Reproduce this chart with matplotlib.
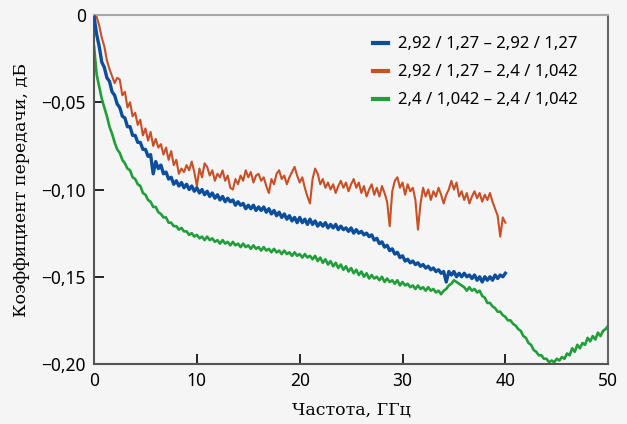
import numpy as np
import matplotlib
matplotlib.use("Agg")
import matplotlib.pyplot as plt

# frequency grid, GHz (0.25 GHz step)
freq = np.arange(0, 50.001, 0.25)

# 2,92/1,27 - 2,92/1,27 (0..40 GHz)
s21_blue = [
    -0.001, -0.011, -0.018, -0.027, -0.030, -0.036, -0.038, -0.044, -0.046, -0.051,
    -0.053, -0.058, -0.059, -0.064, -0.064, -0.069, -0.069, -0.073, -0.073, -0.077,
    -0.077, -0.081, -0.080, -0.091, -0.084, -0.088, -0.086, -0.091, -0.090, -0.094,
    -0.093, -0.097, -0.095, -0.098, -0.096, -0.099, -0.097, -0.100, -0.098, -0.101,
    -0.099, -0.102, -0.100, -0.103, -0.101, -0.104, -0.102, -0.105, -0.103, -0.106,
    -0.104, -0.107, -0.105, -0.107, -0.106, -0.109, -0.107, -0.109, -0.108, -0.111,
    -0.109, -0.111, -0.109, -0.112, -0.110, -0.112, -0.110, -0.113, -0.111, -0.114,
    -0.112, -0.115, -0.113, -0.116, -0.114, -0.117, -0.115, -0.118, -0.116, -0.119,
    -0.116, -0.119, -0.117, -0.120, -0.117, -0.120, -0.118, -0.121, -0.119, -0.121,
    -0.119, -0.122, -0.120, -0.122, -0.120, -0.123, -0.121, -0.123, -0.122, -0.124,
    -0.122, -0.125, -0.123, -0.125, -0.124, -0.126, -0.125, -0.127, -0.126, -0.129,
    -0.128, -0.131, -0.130, -0.133, -0.132, -0.135, -0.134, -0.137, -0.136, -0.139,
    -0.138, -0.141, -0.140, -0.142, -0.141, -0.143, -0.142, -0.144, -0.143, -0.145,
    -0.144, -0.146, -0.145, -0.147, -0.146, -0.148, -0.147, -0.153, -0.147, -0.149,
    -0.147, -0.150, -0.148, -0.150, -0.148, -0.150, -0.149, -0.151, -0.149, -0.152,
    -0.150, -0.153, -0.150, -0.152, -0.150, -0.152, -0.149, -0.151, -0.149, -0.150,
    -0.148,
]

# 2,92/1,27 - 2,4/1,042 (0..40 GHz)
s21_red = [
    0.000, -0.001, -0.006, -0.013, -0.018, -0.026, -0.031, -0.035, -0.039, -0.036,
    -0.037, -0.046, -0.044, -0.053, -0.050, -0.058, -0.056, -0.063, -0.060, -0.069,
    -0.065, -0.072, -0.067, -0.075, -0.071, -0.076, -0.074, -0.080, -0.076, -0.083,
    -0.078, -0.086, -0.083, -0.091, -0.088, -0.090, -0.086, -0.089, -0.084, -0.090,
    -0.098, -0.088, -0.093, -0.085, -0.087, -0.092, -0.089, -0.095, -0.091, -0.093,
    -0.089, -0.095, -0.092, -0.099, -0.100, -0.094, -0.097, -0.092, -0.095, -0.089,
    -0.093, -0.090, -0.096, -0.092, -0.091, -0.095, -0.093, -0.098, -0.102, -0.094,
    -0.097, -0.091, -0.089, -0.094, -0.092, -0.097, -0.093, -0.090, -0.087, -0.092,
    -0.096, -0.093, -0.099, -0.104, -0.108, -0.094, -0.088, -0.091, -0.097, -0.094,
    -0.099, -0.096, -0.100, -0.097, -0.102, -0.098, -0.095, -0.099, -0.096, -0.101,
    -0.097, -0.094, -0.099, -0.096, -0.102, -0.098, -0.104, -0.100, -0.097, -0.103,
    -0.099, -0.104, -0.098, -0.102, -0.107, -0.121, -0.101, -0.095, -0.093, -0.099,
    -0.096, -0.103, -0.097, -0.101, -0.099, -0.106, -0.123, -0.108, -0.099, -0.104,
    -0.100, -0.106, -0.101, -0.104, -0.099, -0.103, -0.108, -0.103, -0.100, -0.095,
    -0.100, -0.096, -0.104, -0.101, -0.106, -0.102, -0.108, -0.104, -0.101, -0.105,
    -0.102, -0.107, -0.103, -0.106, -0.102, -0.107, -0.111, -0.115, -0.127, -0.116,
    -0.119,
]

# 2,4/1,042 - 2,4/1,042 (0..50 GHz)
s21_green = [
    -0.018, -0.034, -0.041, -0.048, -0.053, -0.058, -0.064, -0.068, -0.073, -0.077,
    -0.079, -0.083, -0.085, -0.088, -0.089, -0.093, -0.094, -0.097, -0.098, -0.102,
    -0.103, -0.106, -0.107, -0.110, -0.110, -0.113, -0.114, -0.116, -0.116, -0.119,
    -0.119, -0.121, -0.121, -0.123, -0.122, -0.124, -0.124, -0.126, -0.125, -0.127,
    -0.126, -0.128, -0.127, -0.129, -0.127, -0.129, -0.128, -0.130, -0.129, -0.131,
    -0.129, -0.131, -0.130, -0.132, -0.130, -0.132, -0.131, -0.133, -0.131, -0.133,
    -0.132, -0.134, -0.132, -0.134, -0.133, -0.135, -0.133, -0.135, -0.134, -0.136,
    -0.134, -0.136, -0.135, -0.137, -0.135, -0.137, -0.136, -0.138, -0.136, -0.138,
    -0.137, -0.139, -0.137, -0.139, -0.138, -0.140, -0.138, -0.141, -0.139, -0.142,
    -0.140, -0.143, -0.141, -0.144, -0.142, -0.145, -0.143, -0.146, -0.144, -0.147,
    -0.145, -0.148, -0.146, -0.149, -0.147, -0.150, -0.148, -0.151, -0.149, -0.151,
    -0.150, -0.152, -0.150, -0.153, -0.151, -0.153, -0.152, -0.154, -0.152, -0.155,
    -0.153, -0.155, -0.154, -0.156, -0.155, -0.157, -0.155, -0.157, -0.156, -0.158,
    -0.156, -0.158, -0.157, -0.159, -0.158, -0.160, -0.158, -0.157, -0.155, -0.154,
    -0.152, -0.153, -0.154, -0.155, -0.156, -0.158, -0.156, -0.158, -0.157, -0.159,
    -0.158, -0.161, -0.162, -0.165, -0.165, -0.167, -0.168, -0.170, -0.170, -0.172,
    -0.173, -0.175, -0.175, -0.177, -0.178, -0.180, -0.181, -0.184, -0.185, -0.188,
    -0.189, -0.192, -0.193, -0.195, -0.195, -0.197, -0.197, -0.199, -0.198, -0.199,
    -0.197, -0.198, -0.196, -0.197, -0.194, -0.195, -0.191, -0.193, -0.189, -0.191,
    -0.188, -0.189, -0.185, -0.187, -0.184, -0.186, -0.182, -0.184, -0.181, -0.180,
    -0.178,
]

legend_labels = [
    "2,92 / 1,27 – 2,92 / 1,27",
    "2,92 / 1,27 – 2,4 / 1,042",
    "2,4 / 1,042 – 2,4 / 1,042",
]
xticks = [0, 10, 20, 30, 40, 50]
yticks = [-0.20, -0.15, -0.10, -0.05, 0]
yticklabels = ["−0,20", "−0,15", "−0,10", "−0,05", "0"]

bg = "#f5f5f5"
fig = plt.figure(figsize=(6.27, 4.24), dpi=100, facecolor=bg)
ax = fig.add_axes([0.150, 0.1415, 0.820, 0.8231], facecolor=bg)

n_b = len(s21_blue)
n_r = len(s21_red)
ax.plot(freq[:n_b], s21_blue, color="#0b4f9c", lw=2.4, label=legend_labels[0], zorder=3)
ax.plot(freq[:n_r], s21_red, color="#c94f26", lw=1.5, label=legend_labels[1], zorder=2)
ax.plot(freq, s21_green, color="#1f9e3a", lw=1.9, label=legend_labels[2], zorder=2)

ax.set_xlim(0, 50)
ax.set_ylim(-0.20, 0)
ax.set_xticks(xticks)
ax.set_xticklabels([str(t) for t in xticks])
ax.set_yticks(yticks)
ax.set_yticklabels(yticklabels)

ax.tick_params(direction="in", length=7, width=1.2, colors="black",
               labelsize=12.5, pad=6)
for lab in ax.get_xticklabels() + ax.get_yticklabels():
    lab.set_family("Noto Sans")

ax.spines["left"].set_color("#555555")
ax.spines["bottom"].set_color("#555555")
ax.spines["top"].set_color("#a8a8a8")
ax.spines["right"].set_color("#666666")
for s in ax.spines.values():
    s.set_linewidth(1.5)

ax.set_xlabel("Частота, ГГц", family="DejaVu Serif", fontsize=12.5, labelpad=8)
ax.set_ylabel("Коэффициент передачи, дБ", family="DejaVu Serif", fontsize=12.5, labelpad=8)

leg = ax.legend(loc="upper right", bbox_to_anchor=(0.953, 0.958), frameon=False,
                handlelength=0.9, handletextpad=0.6, labelspacing=0.72,
                borderaxespad=0.0, prop={"family": "Noto Sans", "size": 12})
for line in leg.get_lines():
    line.set_linewidth(3)

fig.savefig("out.png", dpi=100, facecolor=bg)
